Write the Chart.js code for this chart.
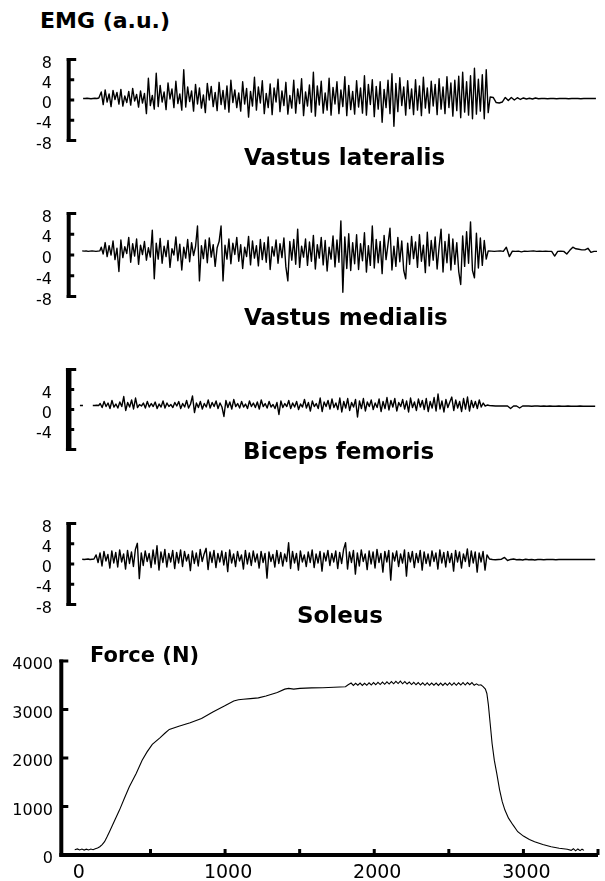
<!DOCTYPE html>
<html><head><meta charset="utf-8">
<script src="https://cdn.jsdelivr.net/npm/chart.js@4.4.1/dist/chart.umd.min.js"></script>
<style>
html,body{margin:0;padding:0;background:#fff;width:605px;height:881px;overflow:hidden;}
.box{position:absolute;left:0;width:605px;}
.t{position:absolute;font-family:"DejaVu Sans",sans-serif;font-weight:bold;color:#000;white-space:nowrap;line-height:1;}
</style></head><body>
<div class="box" style="top:34px;height:132px"><canvas id="c1"></canvas></div>
<div class="box" style="top:188px;height:134px"><canvas id="c2"></canvas></div>
<div class="box" style="top:344px;height:131px"><canvas id="c3"></canvas></div>
<div class="box" style="top:498px;height:132px"><canvas id="c4"></canvas></div>
<div class="box" style="top:640px;height:241px"><canvas id="c5"></canvas></div>
<div class="t" style="left:40px;top:10px;font-size:22px">EMG (a.u.)</div>
<div class="t" style="left:244px;top:146px;font-size:23px">Vastus lateralis</div>
<div class="t" style="left:244px;top:306px;font-size:23px">Vastus medialis</div>
<div class="t" style="left:243px;top:440px;font-size:23px">Biceps femoris</div>
<div class="t" style="left:297px;top:604px;font-size:23px">Soleus</div>
<div class="t" style="left:90px;top:645px;font-size:21px">Force (N)</div>
<script>
// ---------- DATA ----------
const emgTicks = [-8, -4, 0, 4, 8];
const bfTicks = [-4, 0, 4];
const forceYTicks = [0, 1000, 2000, 3000, 4000];
const forceXTicks = [0, 500, 1000, 1500, 2000, 2500, 3000, 3500];
const forceXLabels = [0, 1000, 2000, 3000];

// Vastus lateralis (sampled segments)
const vlPreStart = 46, vlPreStep = 13;
const vlPre = [0.3,0.3,0.35,0.3,0.25,0.3,0.35,0.3,0.4];
const vlActStart = 166, vlActStep = 13;
const vlAct = [
1.6,-0.9,2.0,-0.4,1.2,-1.3,1.9,0.1,1.5,-0.8,
2.1,-1.2,0.8,-0.5,1.7,-1.0,2.3,-0.2,1.1,-1.4,
1.8,-0.6,1.3,-2.7,4.3,-1.1,0.9,-1.8,5.3,-1.3,
2.9,-0.4,1.6,-1.9,3.4,0.2,2.2,-1.5,3.7,-0.7,
1.2,-2.0,6.0,-1.4,2.6,-0.3,1.8,-2.2,3.1,-0.8,
2.4,-1.6,1.0,-2.5,3.3,0.0,2.7,-1.3,1.5,-2.1,
3.5,-0.9,1.9,-1.8,2.8,-2.4,3.9,-0.5,2.0,-1.5,
1.4,-2.2,3.6,-0.8,2.3,-3.4,1.7,-1.2,4.5,-2.0,
2.6,-0.6,3.8,-2.7,1.3,-1.5,3.2,-2.9,2.4,-0.4,
4.1,-2.3,1.8,-1.1,3.5,-2.8,0.9,-1.6,3.9,-2.6,
2.2,-0.7,4.2,-3.1,1.6,-1.2,3.0,-2.4,5.5,-3.2,
2.8,-1.0,3.7,-2.6,1.4,-2.0,4.3,-3.0,2.5,-0.8,
3.6,-2.7,2.0,-1.3,4.6,-3.1,2.9,-1.9,1.7,-2.8,
3.8,-1.4,2.4,-2.6,4.8,-3.0,3.1,-0.9,4.0,-3.3,
2.7,-1.8,3.6,-4.4,2.1,-1.5,3.9,-2.7,5.2,-5.2,
3.3,-2.3,4.4,-1.1,2.6,-3.0,3.8,-1.7,2.2,-2.9,
4.0,-2.0,2.8,-3.1,4.5,-1.6,2.4,-2.6,3.7,-1.2,
3.1,-2.9,4.2,-1.8,2.6,-2.7,4.6,-1.5,3.4,-3.2,
3.9,-2.1,4.7,-3.5,5.5,-2.4,3.6,-3.0,4.8,-3.7,
6.3,-2.8,4.1,-2.2,5.0,-3.7,6.0,-2.5];
const vlPostStart = 2740, vlPostStep = 20;
const vlPost = [0.6,0.5,-0.5,-0.6,-0.4,0.5,-0.1,0.5,0.0,0.45,0.1,0.4,0.2,0.35,0.2,0.4,0.25,0.3,
0.3,0.25,0.3,0.3,0.25,0.3,0.3,0.3,0.25,0.3,0.3,0.3,0.25,0.3,0.3,0.3,0.3,0.3];

// Vastus medialis
const vmPreStart = 40, vmPreStep = 13;
const vmPre = [0.8,0.75,0.8,0.7,0.75,0.8,0.75,0.7,0.75,0.8];
const vmActStart = 166, vmActStep = 13;
const vmAct = [
1.5,0.2,2.4,-0.3,1.8,0.0,2.7,-0.9,1.3,-3.2,
2.9,-0.5,1.6,0.3,3.4,-1.4,2.2,-0.2,3.1,-1.8,
1.9,0.1,2.6,-1.0,1.4,-0.4,4.8,-4.6,2.3,-0.8,
3.2,-1.6,1.7,-0.3,2.8,-2.4,1.2,0.0,3.5,-1.1,
2.1,-2.9,1.5,-0.6,3.0,-1.3,2.4,-0.1,1.6,5.6,
-5.0,1.8,-0.7,2.9,-1.5,3.3,-0.4,2.0,-2.2,1.4,
2.6,5.6,-5.0,1.9,-0.8,3.1,-1.7,2.3,0.1,3.4,
-1.2,2.0,-2.6,1.5,-0.3,3.6,-1.9,2.7,-0.6,1.8,
-2.1,3.0,-0.9,2.4,-1.4,3.5,-2.8,1.6,-0.2,2.9,
-1.6,2.2,-0.5,3.3,-2.3,-5.0,2.6,-1.0,3.0,-1.8,
5.0,-2.4,1.7,-0.4,3.1,-2.0,2.5,-1.2,3.8,-2.7,
2.0,-0.6,3.4,-1.9,2.8,-3.1,1.5,-0.8,3.7,-2.3,
2.9,-1.4,6.6,-7.2,3.5,-2.6,4.1,-3.0,2.4,-1.7,
3.9,-2.8,2.2,-1.1,4.3,-3.3,1.8,-2.0,5.6,-2.5,
3.0,-1.5,2.6,-3.6,3.8,-0.9,2.1,5.2,-2.9,1.7,
-2.2,3.4,-1.3,2.7,-3.0,-4.6,2.3,-1.8,3.6,-0.7,
2.5,-2.4,3.9,-1.2,1.9,-3.4,4.4,-2.1,2.8,-1.0,
3.5,-2.7,1.6,5.0,-3.3,2.6,-1.5,4.0,-2.9,3.1,
-1.8,2.4,-3.2,-5.7,3.7,-2.2,4.5,-1.6,6.4,-3.0,
-4.4,4.2,-2.5,3.3,-2.0,2.8,-0.8];
const vmPostStart = 2727, vmPostStep = 20;
const vmPost = [0.8,0.75,0.7,0.75,0.8,0.7,1.5,-0.3,0.75,0.7,0.75,0.6,0.75,0.7,0.75,0.8,0.7,0.75,
0.7,0.75,0.7,0.7,-0.2,0.7,0.75,0.7,0.2,0.9,1.5,1.2,1.1,1.0,1.0,1.3,0.5,0.7,0.7];

// Biceps femoris
const bfDashT = [25, 45];
const bfDash = [0.8, 0.8];
const bfPreStart = 110, bfPreStep = 13;
const bfPre = [0.8,0.8,0.85,0.8];
const bfActStart = 159, bfActStep = 13;
const bfAct = [
1.2,0.4,1.6,0.6,1.3,0.2,1.8,0.5,1.1,0.3,
1.5,0.6,2.6,-0.2,1.4,0.5,1.9,0.1,2.3,0.4,
1.0,0.7,1.3,0.3,1.6,0.5,1.2,0.6,1.5,0.2,
1.1,0.5,1.7,0.3,1.3,0.6,1.0,0.4,1.4,0.7,
1.6,0.2,1.2,0.5,1.8,0.3,1.1,2.7,-0.6,1.3,
0.4,1.6,0.1,1.2,0.5,1.9,0.3,1.4,0.6,1.7,
0.2,1.3,0.5,-1.4,1.8,0.4,1.5,0.1,2.0,0.6,
1.2,0.3,1.6,0.5,1.1,0.2,1.7,0.6,1.3,0.4,
1.5,0.1,1.9,0.6,1.2,0.3,1.6,0.5,1.0,0.2,
1.4,-1.0,1.7,0.4,1.2,0.6,1.8,0.2,1.3,0.5,
1.6,0.0,1.1,0.5,2.0,0.3,1.4,-0.3,1.7,0.6,
1.2,0.2,2.3,-0.4,1.5,0.6,1.8,0.1,2.1,0.4,
1.3,0.0,2.3,-0.5,1.6,0.3,2.2,-0.2,1.4,0.5,
2.0,-1.5,1.7,0.2,2.2,-0.3,1.5,0.6,1.9,0.0,
1.3,0.4,2.1,-0.4,1.6,0.2,2.4,-0.1,1.8,0.5,
2.2,-0.3,1.4,0.6,2.0,0.1,1.7,-0.5,2.3,0.4,
1.5,-0.2,2.1,0.5,1.8,0.0,2.2,-0.4,1.6,0.3,
2.4,-0.3,3.1,0.1,1.7,-0.5,2.0,0.4,1.5,2.5,
-0.2,1.9,0.3,1.6,-0.4,2.2,0.1,2.5,-0.3,1.8,
0.4,1.6,0.2,1.9,0.5,1.3,0.7,0.9];
const bfPostStart = 2735, bfPostStep = 20;
const bfPost = [0.8,0.75,0.7,0.7,0.7,0.7,0.7,0.2,0.7,0.7,0.3,0.7,0.7,0.7,0.65,0.7,0.7,0.65,
0.7,0.65,0.7,0.65,0.65,0.7,0.65,0.65,0.7,0.65,0.65,0.65,0.7,0.65,0.65,0.65,0.65,0.65];

// Soleus
const solPreStart = 40, solPreStep = 13;
const solPre = [0.95,0.9,0.95,1.0,0.9,0.95,1.0];
const solActStart = 132, solActStep = 13;
const solAct = [
1.8,0.3,2.2,-0.4,2.5,0.6,1.9,-0.8,2.6,0.2,
2.3,-0.6,2.8,0.4,2.0,-1.0,2.7,0.1,2.4,-0.5,
2.9,4.1,-2.9,2.2,-0.3,2.6,0.5,2.1,-0.7,2.8,
0.0,3.6,-1.2,2.4,0.3,2.9,-0.6,2.1,0.4,2.7,
-0.9,2.3,0.2,2.8,-0.5,2.5,0.6,1.9,-1.3,2.6,
0.1,2.2,-0.4,2.9,0.5,2.0,3.1,-1.1,2.4,0.3,
2.7,-0.7,2.1,0.4,2.6,-0.2,2.3,-1.5,2.8,0.2,
2.0,-0.5,2.5,0.6,1.8,-1.0,2.7,0.0,2.2,-0.3,
2.6,0.4,2.0,-0.8,2.5,0.3,2.1,-2.8,2.4,0.5,
1.9,-0.6,2.7,0.1,2.3,-0.4,2.0,0.5,4.2,-0.9,
2.5,0.2,2.1,-1.2,2.6,0.4,1.8,-0.5,2.4,0.3,
2.8,-0.7,2.0,0.2,2.5,-1.4,2.2,0.6,2.7,-0.3,
2.1,0.4,2.6,-0.9,2.3,0.1,2.9,4.2,-1.0,2.4,
0.3,2.7,-2.0,2.2,-0.4,2.8,0.5,2.0,-1.1,2.6,
0.0,2.4,-0.8,2.9,0.3,2.1,-1.6,2.5,0.4,2.7,
-3.2,2.2,0.6,2.6,-0.5,2.0,0.2,2.8,-2.4,2.3,
0.4,2.5,-0.7,2.1,0.3,2.7,-1.2,2.4,0.1,2.0,
-0.4,2.6,0.5,2.2,-1.0,2.8,0.2,2.3,-0.6,2.5,
0.3,2.1,-1.4,2.7,0.4,2.4,-0.8,2.0,0.5,3.0,
-0.5,2.6,0.2,2.4,-1.6,2.2,0.4,2.5,-1.2,1.8];
const solPostStart = 2735, solPostStep = 20;
const solPost = [1.0,0.9,0.85,0.9,0.95,1.3,0.7,0.9,1.0,0.85,0.9,0.8,0.95,0.85,0.9,0.8,0.9,0.9,
0.85,0.9,0.9,0.9,0.85,0.9,0.9,0.9,0.9,0.9,0.9,0.9,0.9,0.9,0.9,0.9,0.9,0.9];

// Force (N)
const forceT = [-8,10,25,40,55,70,85,100,115,130,145,160,176,192,208,225,258,292,325,358,404,444,477,512,563,600,626,690,766,842,918,995,1058,1090,1121,1170,1223,1274,1350,1400,1426,1460,1502,1580,1655,1730,1807,1825,
1845,1860,1875,1890,1905,1920,1935,1950,1965,1980,1995,2010,2025,2040,2055,2070,2085,2100,2115,2130,2145,2160,2175,2190,2205,2220,2235,2250,2265,2280,2295,2310,2325,2340,2355,2370,2385,2400,2415,2430,2445,2460,2475,2490,2505,2520,2535,2550,2565,2580,2595,2610,2625,2640,2655,2670,2685,2700,2715,
2730,2745,2755,2765,2777,2790,2805,2821,2840,2858,2876,2900,2930,2962,3000,3040,3075,3130,3186,3240,3294,3320,3335,3350,3365,3380,3393,3406];
const forceN = [110,125,105,122,102,120,104,122,108,128,145,170,215,274,370,480,700,926,1170,1405,1680,1955,2126,2280,2415,2520,2590,2655,2725,2815,2950,3070,3175,3200,3210,3225,3240,3280,3350,3420,3435,3420,3435,3445,3450,3460,3470,3510,
3545,3495,3540,3500,3545,3495,3540,3500,3550,3505,3555,3510,3560,3515,3565,3520,3570,3525,3575,3530,3580,3535,3585,3530,3575,3525,3565,3515,3560,3510,3555,3505,3550,3500,3550,3500,3545,3500,3545,3495,3545,3495,3545,3500,3550,3500,3550,3500,3550,3505,3555,3505,3555,3510,3555,3500,3530,3500,3510,
3470,3420,3330,3100,2716,2300,1950,1687,1350,1100,926,760,620,480,390,320,274,215,171,140,117,95,130,85,125,90,120,95];

// ---------- HELPERS ----------
function seg(start, step, vals) { return vals.map((v, i) => ({ x: start + i * step, y: v })); }
function pairs(ts, vs) { return ts.map((t, i) => ({ x: t, y: vs[i] })); }
const FONT = '"DejaVu Sans", sans-serif';

const bracketPlugin = {
  id: 'bracket',
  afterDraw(chart, args, o) {
    const ctx = chart.ctx, ys = chart.scales.y, xs = chart.scales.x, ca = chart.chartArea;
    ctx.save();
    ctx.strokeStyle = '#000';
    ctx.lineCap = 'butt';
    const bx = ca.left + o.dx;
    const yTop = ys.getPixelForValue(ys.max), yBot = ys.getPixelForValue(ys.min);
    ctx.lineWidth = o.barWidth;
    ctx.beginPath(); ctx.moveTo(bx, yTop - o.capWidth / 2); ctx.lineTo(bx, yBot + o.capWidth / 2); ctx.stroke();
    ctx.lineWidth = o.capWidth;
    ctx.beginPath();
    ctx.moveTo(bx - o.barWidth / 2, yTop); ctx.lineTo(bx + o.capLen, yTop);
    if (o.bottomCap) { ctx.moveTo(bx - o.barWidth / 2, yBot); ctx.lineTo(bx + o.capLen, yBot); }
    ctx.stroke();
    ctx.lineWidth = o.tickWidth;
    ctx.beginPath();
    o.ticks.forEach(v => { const y = ys.getPixelForValue(v); ctx.moveTo(bx, y); ctx.lineTo(bx + o.tickLen, y); });
    ctx.stroke();
    if (o.xAxis) {
      ctx.lineWidth = o.barWidth;
      ctx.beginPath(); ctx.moveTo(bx - o.barWidth / 2, yBot); ctx.lineTo(ca.right, yBot); ctx.stroke();
      ctx.lineWidth = o.tickWidth;
      ctx.beginPath();
      o.xTicks.forEach(v => { const x = xs.getPixelForValue(v); ctx.moveTo(x, yBot); ctx.lineTo(x, yBot - o.xTickLen); });
      ctx.stroke();
    }
    ctx.restore();
  }
};

function emgChart(id, datasets, tickVals, barWidth) {
  return new Chart(document.getElementById(id), {
    type: 'line',
    data: { datasets: datasets.map(d => ({ data: d, borderColor: '#000', borderWidth: 1.4, pointRadius: 0, tension: 0, fill: false, borderJoinStyle: 'round' })) },
    options: {
      responsive: true, maintainAspectRatio: false, animation: false, devicePixelRatio: 1,
      layout: { padding: { top: 8, bottom: 8, left: 0, right: 0 } },
      plugins: {
        legend: { display: false }, tooltip: { enabled: false },
        bracket: { dx: 0.7, barWidth: barWidth, capWidth: 3, capLen: 7.5, bottomCap: true, tickWidth: 3, tickLen: 5.5, ticks: tickVals.filter(v => v !== 8 && v !== -8) }
      },
      scales: {
        x: { type: 'linear', min: -54, max: 3500, display: false },
        y: {
          min: -8, max: 8,
          afterFit: s => { s.width = 68; },
          afterBuildTicks: s => { s.ticks = tickVals.map(v => ({ value: v })); },
          grid: { display: false, drawTicks: false }, border: { display: false },
          ticks: { color: '#000', font: { family: FONT, size: 16 }, padding: 16, labelOffset: 4, callback: v => String(v) }
        }
      }
    },
    plugins: [bracketPlugin]
  });
}

emgChart('c1', [seg(vlPreStart, vlPreStep, vlPre).concat(seg(vlActStart, vlActStep, vlAct), seg(vlPostStart, vlPostStep, vlPost))], emgTicks, 4);
emgChart('c2', [seg(vmPreStart, vmPreStep, vmPre).concat(seg(vmActStart, vmActStep, vmAct), seg(vmPostStart, vmPostStep, vmPost))], emgTicks, 4);
emgChart('c3', [pairs(bfDashT, bfDash), seg(bfPreStart, bfPreStep, bfPre).concat(seg(bfActStart, bfActStep, bfAct), seg(bfPostStart, bfPostStep, bfPost))], bfTicks, 5.5);
emgChart('c4', [seg(solPreStart, solPreStep, solPre).concat(seg(solActStart, solActStep, solAct), seg(solPostStart, solPostStep, solPost))], emgTicks, 4.5);

new Chart(document.getElementById('c5'), {
  type: 'line',
  data: { datasets: [{ data: pairs(forceT, forceN), borderColor: '#000', borderWidth: 1.1, pointRadius: 0, tension: 0, fill: false }] },
  options: {
    responsive: true, maintainAspectRatio: false, animation: false, devicePixelRatio: 1,
    layout: { padding: { top: 21, bottom: 0, left: 0, right: 0 } },
    plugins: {
      legend: { display: false }, tooltip: { enabled: false },
      bracket: { dx: 0.3, barWidth: 4, capWidth: 3, capLen: 7, bottomCap: false, tickWidth: 3, tickLen: 7,
        ticks: forceYTicks.filter(v => v > 0 && v < 4000), xAxis: true, xTicks: forceXTicks.filter(v => v > 0), xTickLen: 6 }
    },
    scales: {
      x: {
        type: 'linear', min: -100, max: 3500,
        afterFit: s => { s.height = 26; },
        afterBuildTicks: s => { s.ticks = forceXTicks.map(v => ({ value: v })); },
        grid: { display: false, drawTicks: false }, border: { display: false },
        ticks: { autoSkip: false, maxRotation: 0, color: '#000', font: { family: FONT, size: 19 }, padding: 7, labelOffset: 3,
          callback: v => forceXLabels.includes(v) ? String(v) : '' }
      },
      y: {
        min: 0, max: 4000,
        afterFit: s => { s.width = 61; },
        afterBuildTicks: s => { s.ticks = forceYTicks.map(v => ({ value: v })); },
        grid: { display: false, drawTicks: false }, border: { display: false },
        ticks: { color: '#000', font: { family: FONT, size: 16 }, padding: 8, labelOffset: 4, callback: v => String(v) }
      }
    }
  },
  plugins: [bracketPlugin]
});
</script>
</body></html>
